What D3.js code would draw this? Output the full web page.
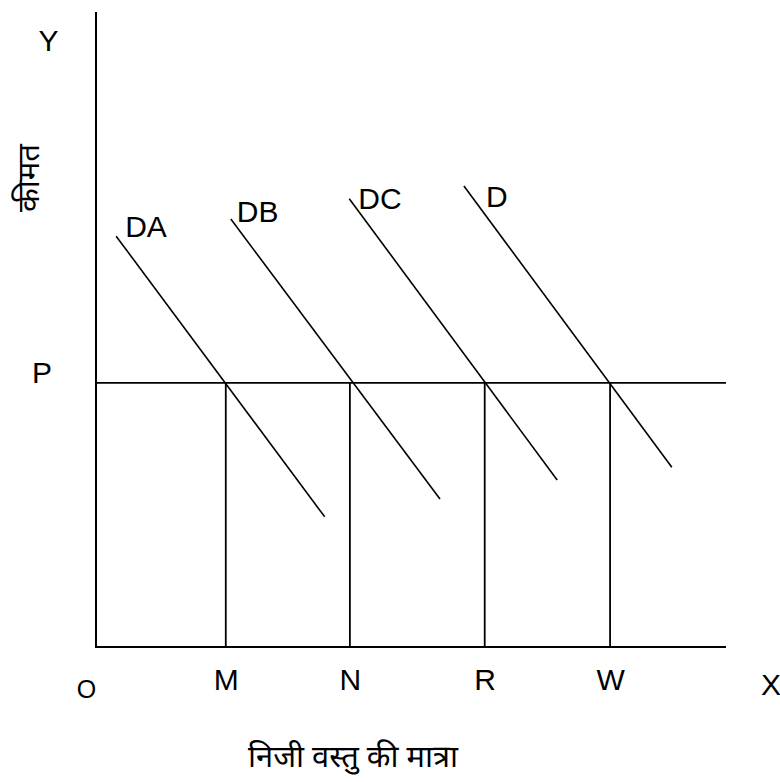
<!DOCTYPE html>
<html>
<head>
<meta charset="utf-8">
<script src="https://cdn.jsdelivr.net/npm/d3@7"></script>
<style>
  html, body { margin: 0; padding: 0; background: #fff; }
  svg { display: block; }
  .lbl { font-family: "Liberation Sans", Arial, sans-serif; font-size: 30px; fill: #000; }
  .hin { font-family: "Noto Sans Devanagari", "Lohit Devanagari", "Noto Sans", sans-serif; fill: #000; }
</style>
</head>
<body>
<script>
// Quantity / price units on both axes (0 – 10)
const equilibriumPrice = 4.16;                 // P
const quantityLabels = ["M", "N", "R", "W"];
const quantityValues = [2.06, 4.03, 6.17, 8.16];

// Demand curves: name, upper-left end, lower-right end
const demandNames  = ["DA", "DB", "DC", "D"];
const demandStartX = [0.32, 2.14, 4.02, 5.84];
const demandStartY = [6.47, 6.74, 7.06, 7.26];
const demandEndX   = [3.63, 5.46, 7.32, 9.14];
const demandEndY   = [2.05, 2.33, 2.63, 2.83];

const axisMax = 10;
const yAxisTitle = "कीमत";
const xAxisTitle = "निजी वस्तु की मात्रा";

const W = 780, H = 782;
const svg = d3.select("body").append("svg").attr("width", W).attr("height", H);

const x = d3.scaleLinear().domain([0, axisMax]).range([96, 726]);
const y = d3.scaleLinear().domain([0, axisMax]).range([647, 12]);

const line = d3.line().x(d => x(d[0])).y(d => y(d[1]));

// Axes
svg.append("path").attr("d", line([[0, axisMax], [0, 0], [axisMax, 0]]))
  .attr("fill", "none").attr("stroke", "#000").attr("stroke-width", 2);

// Price line P
svg.append("path").attr("d", line([[0, equilibriumPrice], [axisMax, equilibriumPrice]]))
  .attr("fill", "none").attr("stroke", "#000").attr("stroke-width", 1.8);

// Quantity drop lines
svg.selectAll("path.drop").data(quantityValues).join("path").attr("class", "drop")
  .attr("d", q => line([[q, equilibriumPrice], [q, 0]]))
  .attr("fill", "none").attr("stroke", "#000").attr("stroke-width", 1.8);

// Demand curves
const demand = demandNames.map((n, i) => ({
  name: n,
  pts: [[demandStartX[i], demandStartY[i]], [demandEndX[i], demandEndY[i]]]
}));
svg.selectAll("path.dem").data(demand).join("path").attr("class", "dem")
  .attr("d", d => line(d.pts))
  .attr("fill", "none").attr("stroke", "#000").attr("stroke-width", 1.6);

// Curve names sit just right of each curve's upper end (pixel nudges)
const nameNudge = [[9, 1], [6, 3], [9, 10], [22, 21]];
svg.selectAll("text.dl").data(demand).join("text").attr("class", "lbl dl")
  .attr("x", (d, i) => x(d.pts[0][0]) + nameNudge[i][0])
  .attr("y", (d, i) => y(d.pts[0][1]) + nameNudge[i][1])
  .text(d => d.name);

// Quantity labels
svg.selectAll("text.ql").data(quantityLabels).join("text").attr("class", "lbl ql")
  .attr("x", (d, i) => x(quantityValues[i]) + 0.5)
  .attr("y", 690)
  .attr("text-anchor", "middle")
  .text(d => d);

// Axis end labels
svg.append("text").attr("class", "lbl").attr("x", 48.5).attr("y", 51)
  .attr("text-anchor", "middle").text("Y");
svg.append("text").attr("class", "lbl").attr("x", 771).attr("y", 695)
  .attr("text-anchor", "middle").text("X");
svg.append("text").attr("class", "lbl").attr("x", 42).attr("y", y(equilibriumPrice))
  .attr("text-anchor", "middle").text("P");
svg.append("text").attr("class", "lbl").style("font-size", "25px")
  .attr("x", 86.5).attr("y", 698).attr("text-anchor", "middle").text("O");

// Axis titles, sized to their run lengths
function fit(sel, target) {
  const len = sel.node().getComputedTextLength();
  const fs = parseFloat(sel.style("font-size"));
  if (len > 0) sel.style("font-size", (fs * target / len) + "px");
}
const yt = svg.append("text").attr("class", "hin").style("font-size", "24px")
  .attr("transform", "translate(39,178) rotate(-90)")
  .attr("text-anchor", "middle").text(yAxisTitle);
fit(yt, 68);
const xt = svg.append("text").attr("class", "hin").style("font-size", "26px")
  .attr("x", 353).attr("y", 767)
  .attr("text-anchor", "middle").text(xAxisTitle);
fit(xt, 210);
</script>
</body>
</html>
